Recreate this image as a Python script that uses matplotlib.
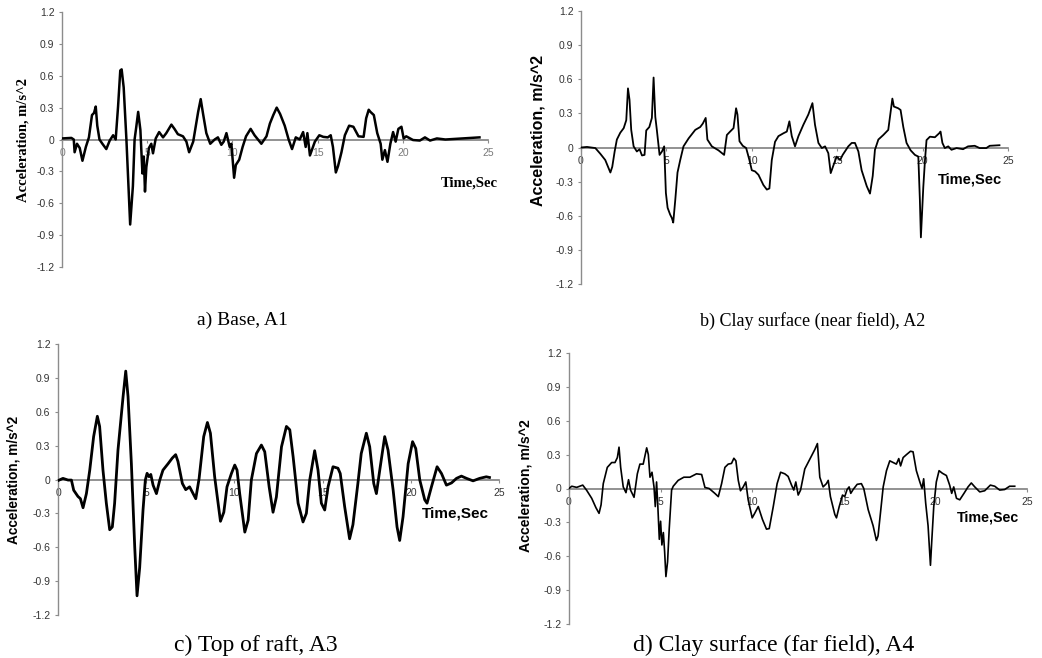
import matplotlib
matplotlib.use("Agg")
import matplotlib.pyplot as plt

W, H = 1042, 658

# ---------------- data ----------------
x_ticks = [0, 5, 10, 15, 20, 25]
x_tick_labels = ["0", "5", "10", "15", "20", "25"]
y_ticks = [-1.2, -0.9, -0.6, -0.3, 0, 0.3, 0.6, 0.9, 1.2]
y_tick_labels = ["-1.2", "-0.9", "-0.6", "-0.3", "0", "0.3", "0.6", "0.9", "1.2"]

captions = ["a) Base, A1", "b) Clay surface (near field), A2",
            "c) Top of raft, A3", "d) Clay surface (far field), A4"]
y_label = "Acceleration, m/s^2"
x_label = "Time,Sec"

t_a = [0, 0.55, 0.69, 0.74, 0.88, 1.04, 1.2, 1.4, 1.58, 1.76, 1.88, 1.98, 2.07, 2.2, 2.37, 2.6, 2.8, 3.0, 3.15, 3.29,
       3.42, 3.5, 3.62, 3.78, 4.0, 4.16, 4.26, 4.36, 4.47, 4.6, 4.72, 4.8, 4.87, 4.95, 5.1, 5.24, 5.34, 5.5, 5.7, 5.93,
       6.12, 6.42, 6.6, 6.8, 7.1, 7.3, 7.46, 7.7, 7.99, 8.14, 8.28, 8.47, 8.7, 8.96, 9.15, 9.35, 9.49, 9.65, 9.84, 9.94,
       10.1, 10.2, 10.4, 10.6, 10.8, 11.07, 11.3, 11.7, 12.0, 12.2, 12.4, 12.6, 12.8, 13.07, 13.3, 13.5, 13.72, 13.95,
       14.15, 14.3, 14.4, 14.55, 14.84, 15.1, 15.33, 15.6, 15.77, 15.9, 16.07, 16.2, 16.4, 16.6, 16.85, 17.1, 17.4,
       17.7, 17.85, 18.0, 18.1, 18.3, 18.5, 18.7, 18.8, 18.95, 19.1, 19.27, 19.43, 19.58, 19.74, 19.92, 20.05, 20.2,
       20.6, 21.0, 21.3, 21.6, 22.0, 22.5, 23.0, 23.5, 24.0, 24.5]
acc_a = [0.01, 0.015, 0, -0.12, -0.04, -0.08, -0.2, -0.07, 0.02, 0.23, 0.25, 0.31, 0.13, 0, -0.04, -0.09, -0.01, 0.04,
         0, 0.31, 0.65, 0.66, 0.49, 0, -0.80, -0.44, 0, 0.12, 0.26, 0.09, -0.32, -0.16, -0.49, -0.26, -0.08, -0.04,
         -0.13, 0.01, 0.07, 0.02, 0.06, 0.14, 0.1, 0.05, 0.03, -0.02, -0.12, -0.02, 0.26, 0.38, 0.24, 0.06, -0.04, 0,
         0.02, -0.05, -0.02, 0.06, -0.07, -0.04, -0.36, -0.24, -0.19, -0.07, 0.03, 0.1, 0.04, -0.04, 0.03, 0.15, 0.23,
         0.3, 0.24, 0.13, 0, -0.09, 0.02, 0, 0.07, -0.07, 0.06, -0.15, -0.02, 0.04, 0.025, 0.02, 0.04, -0.07, -0.31,
         -0.25, -0.12, 0.04, 0.13, 0.12, 0.03, 0.025, 0.2, 0.28, 0.26, 0.23, 0.06, -0.04, -0.19, -0.1, -0.21, -0.04,
         0.07, -0.02, 0.1, 0.12, 0.01, 0.03, -0.005, -0.01, 0.02, -0.01, 0.01, 0, 0.005, 0.01, 0.015, 0.02]

t_b = [0, 0.35, 0.84, 1.13, 1.42, 1.72, 1.83, 1.97, 2.1, 2.3, 2.5, 2.65, 2.75, 2.84, 2.94, 3.08, 3.27, 3.43, 3.57, 3.72,
       3.82, 4.0, 4.15, 4.25, 4.35, 4.44, 4.6, 4.74, 4.87, 4.97, 5.07, 5.17, 5.22, 5.32, 5.4, 5.52, 5.65, 5.81, 6.0,
       6.3, 6.69, 6.98, 7.13, 7.3, 7.4, 7.66, 8.05, 8.38, 8.54, 8.73, 8.93, 9.08, 9.16, 9.28, 9.47, 9.67, 9.86, 10.0,
       10.19, 10.39, 10.68, 10.88, 11.03, 11.17, 11.36, 11.56, 11.85, 12.05, 12.2, 12.34, 12.53, 12.73, 13.02, 13.31,
       13.55, 13.7, 13.9, 14.1, 14.29, 14.48, 14.62, 14.82, 14.97, 15.17, 15.32, 15.52, 15.65, 15.85, 16.04, 16.24,
       16.43, 16.73, 16.92, 17.08, 17.21, 17.41, 17.7, 17.99, 18.13, 18.23, 18.32, 18.57, 18.71, 18.87, 19.06, 19.3,
       19.55, 19.75, 19.84, 19.9, 20.04, 20.14, 20.23, 20.43, 20.72, 20.97, 21.05, 21.16, 21.3, 21.5, 21.69, 21.99,
       22.37, 22.66, 23.05, 23.34, 23.73, 23.93, 24.5]
acc_b = [0, 0.005, -0.005, -0.055, -0.11, -0.22, -0.17, -0.035, 0.07, 0.13, 0.17, 0.24, 0.52, 0.42, 0.155, 0.01,
         -0.035, -0.015, -0.07, -0.065, 0.15, 0.18, 0.26, 0.615, 0.27, 0.155, -0.065, -0.035, 0.01, -0.4, -0.53, -0.57,
         -0.59, -0.62, -0.66, -0.46, -0.22, -0.11, 0.01, 0.08, 0.155, 0.18, 0.21, 0.26, 0.07, 0.01, -0.025, -0.065,
         0.11, 0.14, 0.17, 0.345, 0.29, 0.055, 0.015, -0.005, -0.11, -0.2, -0.21, -0.24, -0.33, -0.37, -0.36, -0.11,
         0.05, 0.1, 0.125, 0.14, 0.23, 0.1, 0.01, 0.1, 0.2, 0.29, 0.39, 0.2, 0.04, -0.005, 0.01, -0.05, -0.225, -0.14,
         -0.08, -0.11, -0.065, -0.02, 0.01, 0.04, 0.04, -0.035, -0.2, -0.34, -0.405, -0.25, -0.02, 0.07, 0.11, 0.155,
         0.315, 0.43, 0.36, 0.345, 0.33, 0.18, 0.04, -0.025, -0.065, -0.08, -0.46, -0.79, -0.35, -0.11, 0.065, 0.095,
         0.09, 0.125, 0.14, 0.04, -0.005, 0.01, -0.02, -0.005, -0.015, 0.01, 0.015, -0.005, -0.005, 0.015, 0.02]

t_c = [0, 0.28, 0.57, 0.76, 0.89, 1.13, 1.27, 1.42, 1.61, 1.8, 2.02, 2.23, 2.36, 2.55, 2.74, 2.93, 3.08, 3.21, 3.4,
       3.69, 3.84, 3.97, 4.16, 4.35, 4.48, 4.63, 4.82, 4.95, 5.05, 5.16, 5.26, 5.39, 5.58, 5.77, 5.95, 6.24, 6.48,
       6.67, 6.8, 7.05, 7.24, 7.46, 7.66, 7.81, 8.0, 8.26, 8.47, 8.64, 8.88, 9.21, 9.4, 9.58, 9.83, 10.02, 10.15, 10.3,
       10.59, 10.78, 10.96, 11.25, 11.53, 11.72, 11.97, 12.19, 12.38, 12.67, 12.95, 13.14, 13.33, 13.61, 13.89, 14.08,
       14.27, 14.55, 14.74, 14.93, 15.12, 15.31, 15.59, 15.87, 16.0, 16.25, 16.53, 16.72, 17.0, 17.19, 17.48, 17.67,
       17.9, 18.05, 18.24, 18.52, 18.71, 19.0, 19.22, 19.37, 19.56, 19.85, 20.1, 20.28, 20.51, 20.79, 20.92, 21.17,
       21.49, 21.74, 22.02, 22.31, 22.59, 22.87, 23.16, 23.53, 23.9, 24.28, 24.46]
acc_c = [-0.01, 0.01, -0.005, -0.005, -0.095, -0.15, -0.17, -0.25, -0.125, 0.083, 0.38, 0.56, 0.47, 0.083, -0.21,
         -0.445, -0.42, -0.21, 0.26, 0.735, 0.96, 0.735, 0.14, -0.6, -1.03, -0.78, -0.27, -0.005, 0.055, 0.025, 0.045,
         -0.05, -0.125, -0.005, 0.083, 0.14, 0.19, 0.22, 0.16, -0.035, -0.09, -0.065, -0.125, -0.17, 0.01, 0.38,
         0.505, 0.41, 0.025, -0.37, -0.29, -0.065, 0.053, 0.128, 0.083, -0.125, -0.466, -0.36, -0.005, 0.23, 0.305,
         0.246, -0.065, -0.29, -0.155, 0.29, 0.47, 0.44, 0.2, -0.21, -0.376, -0.3, -0.005, 0.255, 0.083, -0.21, -0.27,
         -0.065, 0.113, 0.1, 0.053, -0.24, -0.525, -0.4, -0.035, 0.23, 0.41, 0.29, -0.035, -0.125, 0.083, 0.38, 0.26,
         -0.095, -0.42, -0.54, -0.33, 0.14, 0.335, 0.275, -0.005, -0.18, -0.21, -0.065, 0.113, 0.053, -0.05, -0.03,
         0.01, 0.03, 0.01, -0.012, 0.01, 0.024, 0.018]

t_d = [0, 0.15, 0.42, 0.75, 0.96, 1.24, 1.47, 1.64, 1.75, 1.87, 2.09, 2.33, 2.51, 2.64, 2.73, 2.82, 2.96, 3.11, 3.25,
       3.36, 3.55, 3.73, 3.87, 4.05, 4.24, 4.33, 4.42, 4.53, 4.64, 4.71, 4.78, 4.85, 4.93, 5.0, 5.07, 5.15, 5.22,
       5.29, 5.38, 5.47, 5.6, 5.69, 5.96, 6.27, 6.6, 6.96, 7.24, 7.42, 7.65, 7.96, 8.15, 8.33, 8.51, 8.69, 8.87, 9.0,
       9.11, 9.24, 9.36, 9.51, 9.65, 9.78, 10.0, 10.15, 10.33, 10.56, 10.78, 10.93, 11.15, 11.36, 11.55, 11.78, 11.96,
       12.15, 12.27, 12.38, 12.51, 12.64, 12.87, 13.15, 13.42, 13.56, 13.69, 13.87, 14.05, 14.15, 14.27, 14.51, 14.6,
       14.75, 14.93, 15.05, 15.18, 15.29, 15.38, 15.51, 15.73, 15.96, 16.09, 16.33, 16.6, 16.78, 16.87, 17.0, 17.15,
       17.33, 17.51, 17.69, 17.87, 18.0, 18.1, 18.24, 18.42, 18.64, 18.78, 18.96, 19.15, 19.27, 19.36, 19.47, 19.6,
       19.73, 19.8, 19.91, 20.05, 20.2, 20.38, 20.6, 20.78, 20.89, 21.0, 21.15, 21.33, 21.56, 21.78, 21.96, 22.15,
       22.42, 22.69, 23.0, 23.24, 23.51, 23.78, 24.05, 24.33]
acc_d = [0, 0.02, 0.01, 0.03, -0.015, -0.087, -0.17, -0.22, -0.145, 0.043, 0.187, 0.23, 0.23, 0.274, 0.366, 0.187,
         0.014, -0.037, 0.078, -0.014, -0.078, 0.13, 0.216, 0.216, 0.36, 0.3, 0.1, 0.144, 0.014, -0.16, 0.058, -0.16,
         -0.45, -0.29, -0.5, -0.39, -0.56, -0.78, -0.65, -0.36, -0.014, 0.02, 0.072, 0.1, 0.1, 0.13, 0.124, 0.009, 0,
         -0.043, -0.072, 0.043, 0.187, 0.216, 0.222, 0.268, 0.245, 0.072, -0.02, 0.014, 0.058, -0.1, -0.26, -0.216,
         -0.16, -0.274, -0.36, -0.355, -0.16, 0.043, 0.144, 0.13, 0.107, 0.029, -0.014, 0.058, -0.058, -0.014, 0.173,
         0.26, 0.346, 0.398, 0.1, 0.014, 0.043, 0.072, -0.072, -0.23, -0.26, -0.16, -0.058, -0.072, -0.009, 0.014,
         -0.043, -0.009, 0.037, 0.043, 0, -0.187, -0.33, -0.46, -0.42, -0.216, 0.014, 0.158, 0.245, 0.23, 0.216,
         0.265, 0.2, 0.274, 0.3, 0.33, 0.325, 0.158, 0.058, 0, 0.086, -0.13, -0.33, -0.68, -0.47, -0.16, 0.058, 0.158,
         0.135, 0.115, 0.029, -0.043, 0.014, -0.087, -0.1, -0.043, 0.014, 0.049, 0.014, -0.03, -0.02, 0.03, 0.02,
         -0.014, -0.009, 0.02, 0.02]

# ---------------- layout ----------------
SANS = "Liberation Sans"
SERIF = "Liberation Serif"


def rect(l, r, t, b):
    return [l / W, 1 - b / H, (r - l) / W, (b - t) / H]


panels = [
    dict(t=t_a, y=acc_a, box=rect(62, 488, 12, 267), lw=1.8, lab_font=SERIF, ylab_size=10.5, ylab_xy=(23, 140),
         xlab_size=10.5, xlab_xy=(469, 183), cap_xy=(242, 320), cap_size=14, xcol="#7a7a7a"),
    dict(t=t_b, y=acc_b, box=rect(581, 1008, 11, 284), lw=1.3, lab_font=SANS, ylab_size=11.5, ylab_xy=(538, 130),
         xlab_size=10.5, xlab_xy=(970, 180), cap_xy=(813, 321), cap_size=13, xcol="#333333"),
    dict(t=t_c, y=acc_c, box=rect(58, 499, 344, 615), lw=2.0, lab_font=SANS, ylab_size=9.8, ylab_xy=(14, 480),
         xlab_size=11, xlab_xy=(455, 514), cap_xy=(256, 645), cap_size=17, xcol="#333333"),
    dict(t=t_d, y=acc_d, box=rect(569, 1027, 353, 624), lw=1.2, lab_font=SANS, ylab_size=10.2, ylab_xy=(526, 486),
         xlab_size=10.3, xlab_xy=(988, 518), cap_xy=(774, 645), cap_size=17, xcol="#333333"),
]

fig = plt.figure(figsize=(W / 100, H / 100), dpi=100)
fig.patch.set_facecolor("white")

for p, cap in zip(panels, captions):
    ax = fig.add_axes(p["box"])
    ax.plot(p["t"], p["y"], color="black", lw=p["lw"], solid_joinstyle="round", zorder=3)
    ax.set_xlim(0, 25)
    ax.set_ylim(-1.2, 1.2)
    for s in ("top", "right"):
        ax.spines[s].set_visible(False)
    ax.spines["left"].set_color("#8c8c8c")
    ax.spines["left"].set_linewidth(1.0)
    ax.spines["bottom"].set_position(("data", 0))
    ax.spines["bottom"].set_color("#7f7f7f")
    ax.spines["bottom"].set_linewidth(1.2)
    ax.spines["bottom"].set_zorder(2)
    ax.set_yticks(y_ticks)
    ax.set_yticklabels(y_tick_labels, family=SANS)
    ax.set_xticks(x_ticks)
    ax.set_xticklabels(x_tick_labels, family=SANS)
    ax.tick_params(axis="y", direction="out", length=2.5, width=0.8, color="#8c8c8c", pad=3,
                   labelsize=7.5, labelcolor="#333333")
    ax.tick_params(axis="x", direction="out", length=2, width=0.8, color="#8c8c8c", pad=4,
                   labelsize=7.5, labelcolor=p["xcol"])
    ax.patch.set_alpha(0)

    fig.text(p["ylab_xy"][0] / W, 1 - p["ylab_xy"][1] / H, y_label, rotation=90, ha="center", va="center",
             family=p["lab_font"], fontweight="bold", fontsize=p["ylab_size"], color="black")
    fig.text(p["xlab_xy"][0] / W, 1 - p["xlab_xy"][1] / H, x_label, ha="center", va="center",
             family=p["lab_font"], fontweight="bold", fontsize=p["xlab_size"], color="black")
    fig.text(p["cap_xy"][0] / W, 1 - p["cap_xy"][1] / H, cap, ha="center", va="center",
             family=SERIF, fontsize=p["cap_size"], color="black")

fig.savefig("out.png", dpi=100, facecolor="white")
